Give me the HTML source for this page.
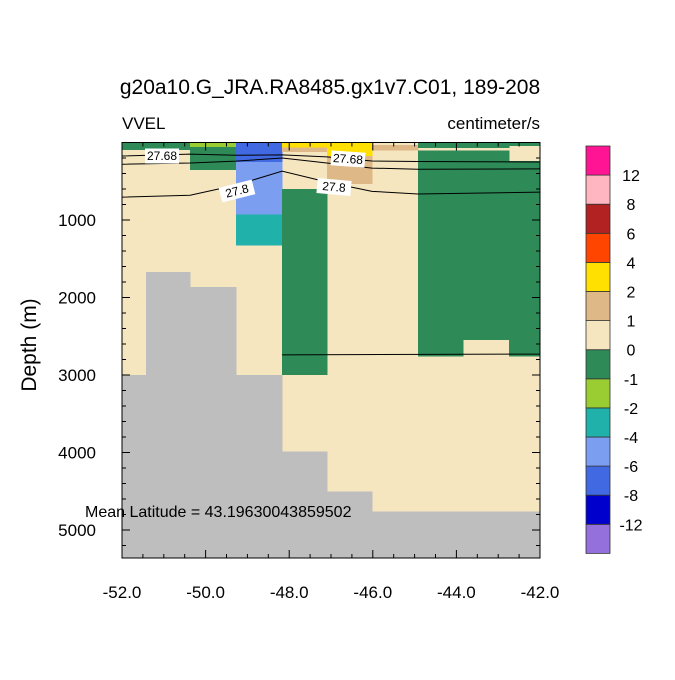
<!DOCTYPE html>
<html><head><meta charset="utf-8"><style>
body{margin:0;background:#fff;}
svg text{font-family:"Liberation Sans",Arial,sans-serif;fill:#000;}
</style></head><body>
<svg id="c" width="675" height="675" viewBox="0 0 675 675" xmlns="http://www.w3.org/2000/svg"></svg>
<script>
// ---- data ----
const levels = [-12,-8,-6,-4,-2,-1,0,1,2,4,6,8,12];
const levelLabels = ["-12","-8","-6","-4","-2","-1","0","1","2","4","6","8","12"];
const palette = ["#9370db","#0000cd","#4169e1","#7b9ef0","#20b2aa","#9acd32","#2e8b57","#f5e6c0","#deb887","#ffe000","#ff4500","#b22222","#ffb6c1","#ff1493"];
const cellLon0 = [-52,-50.37,-50.37,-49.27,-49.27,-49.27,-48.17,-48.17,-48.17,-47.10,-47.10,-46.02,-44.92,-44.92,-43.84,-42.74,-42.74];
const cellLon1 = [-50.37,-49.27,-49.27,-48.17,-48.17,-48.17,-47.10,-47.10,-47.10,-46.02,-46.02,-44.92,-42.74,-43.84,-42.74,-42,-42];
const cellTop  = [0,0,55,0,250,930,0,65,600,0,175,35,0,105,105,0,240];
const cellBot  = [95,55,355,250,930,1330,65,120,3000,175,535,100,70,2760,2550,45,2760];
const cellVal  = [-0.5,-1.5,-0.5,-7,-5,-3,3,1.5,-0.5,3,1.5,1.5,-0.5,-0.5,-0.5,-0.5,-0.5];
const topoLon0 = [-52,-51.43,-50.37,-49.27,-48.17,-47.10,-46.02];
const topoLon1 = [-51.43,-50.37,-49.27,-48.17,-47.10,-46.02,-42];
const topoDepth = [3000,1670,1865,3000,3990,4500,4760];
const contLon = [-52,-50.37,-49.27,-48.17,-47.10,-46.02,-44.92,-42];
const cont1 = [174,150,165,160,185,239,245,252];
const cont2 = [280,265,240,200,265,330,345,340];
const cont3 = [705,680,550,370,510,630,665,640];
const cont4Lon = [-48.17,-42];
const cont4 = [2740,2730];
const xTicks = [-52,-50,-48,-46,-44,-42];
const xTickLabels = ["-52.0","-50.0","-48.0","-46.0","-44.0","-42.0"];
const yTicks = [1000,2000,3000,4000,5000];
const yTickLabels = ["1000","2000","3000","4000","5000"];

// ---- axes ----
const X0=122,X1=540,Y0=142.5,Y1=558;
const xs = v => X0 + (v+52)*(X1-X0)/10;
const ys = d => Y0 + d*0.0775;
const svg=document.getElementById('c');
const NS="http://www.w3.org/2000/svg";
function mk(tag,attrs,parent){const e=document.createElementNS(NS,tag);for(const k in attrs)e.setAttribute(k,attrs[k]);(parent||svg).appendChild(e);return e;}
function colorFor(v){let i=0;while(i<levels.length&&v>=levels[i])i++;return palette[i];}

const plot=mk('g',{'shape-rendering':'crispEdges'});


let bg=mk('rect',{x:X0,y:Y0,width:X1-X0,height:Y1-Y0,fill:palette[7]},plot);


for(let i=0;i<cellVal.length;i++){
  const r=mk('rect',{x:xs(cellLon0[i]),y:ys(cellTop[i]),width:xs(cellLon1[i])-xs(cellLon0[i])+0.5,height:ys(cellBot[i])-ys(cellTop[i]),fill:colorFor(cellVal[i])},plot);
  
  
}
for(let i=0;i<topoDepth.length;i++){
  const r=mk('rect',{x:xs(topoLon0[i]),y:ys(topoDepth[i]),width:xs(topoLon1[i])-xs(topoLon0[i])+0.5,height:Y1-ys(topoDepth[i]),fill:"#bebebe"},plot);
  
  
}
const lines=mk('g',{});
function cline(lons,ds,name){
  const p=mk('polyline',{points:lons.map((l,i)=>xs(l)+','+ys(ds[i])).join(' '),fill:'none',stroke:'#000','stroke-width':1},lines);
  
  
}
cline(contLon,cont1,'contour-27-68');
cline(contLon,cont2,'contour-27-74');
cline(contLon,cont3,'contour-27-8');
cline(cont4Lon,cont4,'contour-deep');
function clabel(x,y,rot,t){
  const g=mk('g',{transform:`translate(${x},${y}) rotate(${rot})`});
  
  
  mk('rect',{x:-17,y:-7.5,width:34,height:15,fill:'#fff'},g);
  const tx=mk('text',{x:0,y:4,'font-size':12,'text-anchor':'middle'},g);tx.textContent=t;
}
clabel(162,156,0,'27.68');
clabel(348,159,4,'27.68');
clabel(237,191,-14,'27.8');
clabel(334,187,5,'27.8');

// frame & ticks
const ax=mk('g',{});


mk('rect',{x:X0,y:Y0,width:X1-X0,height:Y1-Y0,fill:'none',stroke:'#000','stroke-width':1},ax);
for(let v=-52;v<=-42.001;v+=0.5){
  const maj=Math.abs((v+52)%2)<1e-6; const L=maj?8:4;
  mk('line',{x1:xs(v),y1:Y1,x2:xs(v),y2:Y1-L,stroke:'#000'},ax);
  mk('line',{x1:xs(v),y1:Y0,x2:xs(v),y2:Y0+L,stroke:'#000'},ax);
}
for(let d=200;ys(d)<Y1;d+=200){
  const maj=d%1000===0; const L=maj?8:4;
  mk('line',{x1:X0,y1:ys(d),x2:X0+L,y2:ys(d),stroke:'#000'},ax);
  mk('line',{x1:X1,y1:ys(d),x2:X1-L,y2:ys(d),stroke:'#000'},ax);
}
xTicks.forEach((v,i)=>{const t=mk('text',{x:xs(v),y:598,'font-size':17,'text-anchor':'middle'});t.textContent=xTickLabels[i];
 });
yTicks.forEach((v,i)=>{const t=mk('text',{x:96,y:ys(v)+6,'font-size':17,'text-anchor':'end'});t.textContent=yTickLabels[i];
 });

// colorbar
const cb=mk('g',{});


const CBX=586,CBW=24,CBT=146,CBH=29.1;
for(let i=0;i<palette.length;i++){
  const r=mk('rect',{x:CBX,y:CBT+(palette.length-1-i)*CBH,width:CBW,height:CBH,fill:palette[i],stroke:'#333','stroke-width':0.8},cb);
  
  
}
levels.forEach((v,i)=>{
  const t=mk('text',{x:631,y:CBT+(palette.length-1-i)*CBH+6,'font-size':16,'text-anchor':'middle'},cb);
  t.textContent=levelLabels[i];
  
  
});
</script>
<div style="position:absolute;left:0;top:0;width:675px;height:675px;pointer-events:none;">
<svg width="675" height="675" style="position:absolute;left:0;top:0">
<text x="330" y="94" font-size="21" text-anchor="middle" style="font-family:'Liberation Sans',sans-serif">g20a10.G_JRA.RA8485.gx1v7.C01, 189-208</text>
<text x="122" y="129" font-size="17" style="font-family:'Liberation Sans',sans-serif">VVEL</text>
<text x="540" y="129" font-size="17" text-anchor="end" style="font-family:'Liberation Sans',sans-serif">centimeter/s</text>
<text x="85" y="517" font-size="16" style="font-family:'Liberation Sans',sans-serif">Mean Latitude = 43.19630043859502</text>
<text x="0" y="0" font-size="21" text-anchor="middle" transform="translate(36,345) rotate(-90)" style="font-family:'Liberation Sans',sans-serif">Depth (m)</text>
</svg></div>
</body></html>
